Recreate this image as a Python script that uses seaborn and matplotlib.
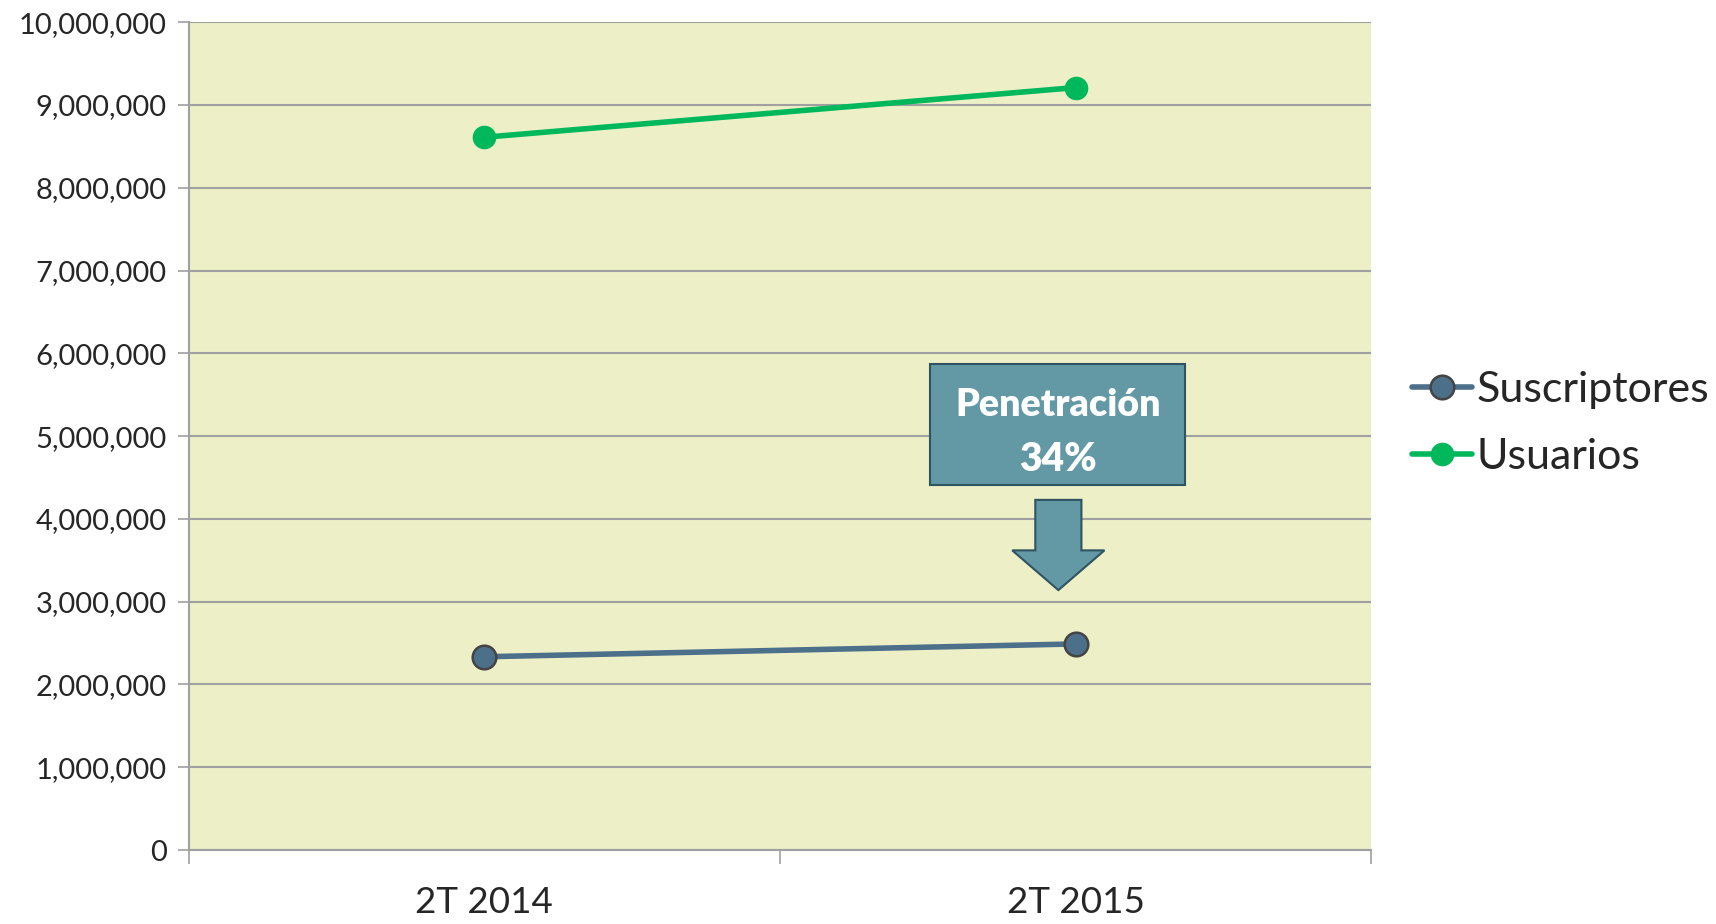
# Suscriptores vs usuarios, 2T 2014 - 2T 2015
import pandas as pd
import seaborn as sns
import matplotlib.pyplot as plt
from matplotlib.patches import Polygon, Rectangle
from matplotlib.ticker import FuncFormatter, MultipleLocator, FixedLocator

# data
periodos = ["2T 2014", "2T 2015"]
suscriptores = [2335000, 2490000]
usuarios = [8610000, 9210000]
series = ["Suscriptores", "Usuarios"]
colores = {"Suscriptores": "#4C6F8A", "Usuarios": "#00B85C"}

df = pd.DataFrame({
    "periodo": periodos * 2,
    "valor": suscriptores + usuarios,
    "serie": [series[0]] * 2 + [series[1]] * 2,
})

sns.set_style("white")
plt.rcParams["font.family"] = ["Lato", "DejaVu Sans"]

fig = plt.figure(figsize=(17.16, 9.24), dpi=100)
ax = fig.add_axes([0.110, 0.080, 0.689, 0.896])
ax.set_facecolor("#EDEFC7")

for nombre in series:
    sub = df[df["serie"] == nombre]
    sns.lineplot(
        data=sub, x="periodo", y="valor", ax=ax, color=colores[nombre],
        linewidth=4, marker="o", markersize=17,
        markeredgecolor="#444444" if nombre == "Suscriptores" else colores[nombre],
        markeredgewidth=1.8 if nombre == "Suscriptores" else 0,
        label=nombre,
    )

ax.set_xlim(-0.5, 1.5)
ax.set_ylim(0, 10000000)
ax.yaxis.set_major_locator(MultipleLocator(1000000))
ax.yaxis.set_major_formatter(FuncFormatter(lambda v, p: f"{int(v):,}"))
ax.grid(axis="y", color="#A0A0A0", linewidth=1.5)
ax.set_axisbelow(True)

ax.set_xticks([0, 1])
ax.set_xticklabels(periodos, fontsize=26.5)
ax.xaxis.set_minor_locator(FixedLocator([-0.5, 0.5, 1.5]))
ax.tick_params(axis="x", which="major", length=0, pad=26, bottom=True)
ax.tick_params(axis="x", which="minor", length=10, width=1.2, color="#A0A0A0", bottom=True)
ax.tick_params(axis="y", labelsize=21, length=8, width=1.2, color="#A0A0A0", pad=8, left=True)
ax.set_xlabel("")
ax.set_ylabel("")

for lado in ["top", "right"]:
    ax.spines[lado].set_visible(False)
for lado in ["left", "bottom"]:
    ax.spines[lado].set_color("#A0A0A0")
    ax.spines[lado].set_linewidth(1.5)

# callout box with arrow
caja = Rectangle((0.754, 4410000), 0.432, 1460000, facecolor="#6399A5",
                 edgecolor="#2F5360", linewidth=1.5, zorder=4)
ax.add_patch(caja)
ax.text(0.970, 5370000, "Penetración", color="white", fontsize=27,
        fontweight="heavy", ha="center", va="center", zorder=5)
ax.text(0.970, 4720000, "34%", color="white", fontsize=28,
        fontweight="heavy", ha="center", va="center", zorder=5)
flecha = Polygon([
    (0.932, 4230000), (1.010, 4230000), (1.010, 3620000), (1.049, 3620000),
    (0.971, 3140000), (0.893, 3620000), (0.932, 3620000)],
    closed=True, facecolor="#6399A5", edgecolor="#2F5360", linewidth=1.5, zorder=4)
ax.add_patch(flecha)

leg = ax.legend(loc="center left", bbox_to_anchor=(1.02, 0.515), frameon=False,
                fontsize=31, handlelength=1.4, handletextpad=0.1, labelspacing=0.68,
                borderaxespad=0)

fig.savefig("out.png", dpi=100)
